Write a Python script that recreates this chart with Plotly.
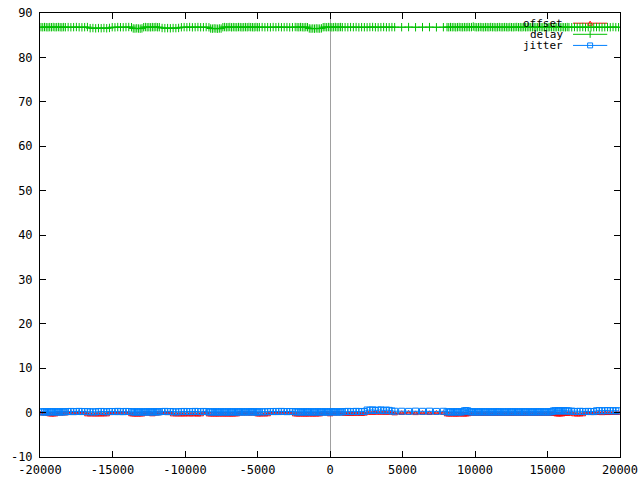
import plotly.graph_objects as go

# ---- data ----
x_values = [
    -19930, -19810, -19690, -19570, -19450, -19330, -19210, -19090, -18970, -18850, -18730, -18610, -18490, -18370, -18250,
    -18060, -17870, -17680, -17490, -17300, -17110, -16920, -16730,
    -16540, -16350, -16160, -15970, -15780, -15590, -15400, -15210,
    -15020, -14830, -14640, -14450, -14260, -14070, -13880, -13690,
    -13570, -13450, -13330, -13210, -13090, -12970,
    -12850, -12730, -12610, -12490, -12370, -12250, -12130, -12010, -11890, -11770,
    -11580, -11390, -11200, -11010, -10820, -10630, -10440,
    -10250, -10060, -9870, -9680, -9490, -9300, -9110, -8920, -8730, -8540, -8350,
    -8230, -8110, -7990, -7870, -7750, -7630, -7510,
    -7390, -7270, -7150, -7030, -6910, -6790, -6670, -6550, -6430, -6310, -6190, -6070, -5950, -5830, -5710, -5590,
    -5470, -5350, -5230, -5110, -4990, -4870,
    -4680, -4490, -4300, -4110, -3920, -3730, -3540, -3350, -3160, -2970, -2780, -2590, -2400,
    -2270, -2150, -2030, -1910, -1790, -1670, -1550,
    -1430, -1310, -1190, -1070, -950, -830, -710, -590,
    -470, -350, -230, -110, 10, 130, 250, 370, 490, 610, 730, 850,
    1040, 1230, 1420, 1610, 1800, 1990, 2180, 2370, 2560, 2750, 2940, 3130, 3320, 3510, 3700, 3890, 4080, 4270, 4460,
    4940, 5420, 5900, 6380, 6860, 7340, 7820,
    8070, 8190, 8310, 8430, 8550, 8670, 8790, 8910, 9030, 9150, 9270, 9390, 9510, 9630,
    9760,
    9880, 10000, 10120, 10240, 10360, 10480, 10600, 10720, 10840, 10960, 11080, 11200, 11320, 11440, 11560, 11680,
    11800, 11920, 12040, 12160, 12280, 12400, 12520, 12640, 12760, 12880, 13000, 13120, 13240, 13360, 13480, 13600,
    13720, 13840, 13960, 14080, 14200, 14320, 14440, 14560, 14680, 14800, 14920, 15040, 15160, 15280, 15400, 15520,
    15640, 15760, 15880, 16000, 16120, 16240, 16360, 16480,
    16670, 16860, 17050, 17240, 17430, 17620, 17810, 18000, 18190, 18380, 18570, 18760, 18950, 19140, 19330, 19520,
    19710, 19900,
]

delay_values = [
    86.81, 86.79, 86.83, 86.80, 86.78, 86.82, 86.80, 86.84, 86.79, 86.81, 86.83, 86.80, 86.78, 86.82, 86.80,
    86.82, 86.79, 86.81, 86.84, 86.80, 86.78, 86.81, 86.83,
    86.58, 86.61, 86.55, 86.60, 86.57, 86.62, 86.56, 86.63,
    86.81, 86.78, 86.83, 86.80, 86.79, 86.82, 86.84, 86.80,
    86.52, 86.49, 86.54, 86.50, 86.47, 86.53,
    86.80, 86.83, 86.79, 86.81, 86.78, 86.82, 86.80, 86.84, 86.79, 86.81,
    86.62, 86.58, 86.60, 86.56, 86.61, 86.59, 86.63,
    86.79, 86.82, 86.80, 86.84, 86.78, 86.81, 86.83, 86.79, 86.80, 86.82, 86.78,
    86.51, 86.48, 86.53, 86.50, 86.46, 86.52, 86.49,
    86.80, 86.83, 86.79, 86.81, 86.84, 86.78, 86.82, 86.80, 86.79, 86.83, 86.81, 86.78, 86.80, 86.82, 86.79, 86.84,
    86.81, 86.80, 86.78, 86.83, 86.79, 86.81,
    86.82, 86.79, 86.81, 86.78, 86.83, 86.80, 86.84, 86.79, 86.81, 86.82, 86.78, 86.80, 86.83,
    86.81, 86.79, 86.83, 86.80, 86.78, 86.82, 86.80,
    86.52, 86.48, 86.51, 86.47, 86.53, 86.50, 86.49, 86.54,
    86.80, 86.82, 86.79, 86.83, 86.81, 86.78, 86.80, 86.84, 86.79, 86.81, 86.83, 86.80,
    86.81, 86.79, 86.82, 86.80, 86.83, 86.78, 86.81, 86.80, 86.79, 86.82, 86.84, 86.80, 86.78, 86.81, 86.83, 86.79,
    86.80, 86.82, 86.81,
    86.80, 86.83, 86.79, 86.81, 86.82, 86.78, 86.80,
    86.81, 86.79, 86.83, 86.80, 86.82, 86.78, 86.81, 86.84, 86.80, 86.79, 86.82, 86.80, 86.83, 86.81,
    86.82,
    86.95, 86.82, 86.79, 86.81, 86.83, 86.80, 86.78, 86.82, 86.81, 86.79, 86.84, 86.80, 86.82, 86.78, 86.81, 86.83,
    86.79, 86.80, 86.82, 86.81, 86.78, 86.83, 86.80, 86.79, 86.82, 86.84, 86.80, 86.81, 86.78, 86.83, 86.79, 86.81,
    86.82, 86.80, 86.78, 86.84, 86.81, 86.79, 86.83, 86.80, 86.82, 86.78, 86.81, 86.80, 86.83, 86.79, 86.82, 86.80,
    86.81, 86.84, 86.78, 86.82, 86.80, 86.79, 86.83, 86.81,
    86.80, 86.83, 86.79, 86.81, 86.84, 86.78, 86.82, 86.80, 86.79, 86.83, 86.81, 86.78, 86.80, 86.82, 86.79, 86.84,
    86.81, 86.80,
]

offset_values = [
    -0.21, -0.18, -0.24, -0.20, -0.27, -0.44, -0.47, -0.43, -0.46, -0.22, -0.19, -0.25, -0.21, -0.17, -0.23,
    -0.12, -0.08, -0.15, -0.10, -0.06, -0.13, -0.09, -0.44,
    -0.46, -0.43, -0.48, -0.44, -0.47, -0.42, -0.45, -0.18,
    -0.14, -0.10, -0.16, -0.09, -0.12, -0.07, -0.15, -0.43,
    -0.46, -0.44, -0.48, -0.45, -0.43, -0.47,
    -0.22, -0.18, -0.25, -0.20, -0.23, -0.44, -0.19, -0.24, -0.21, -0.17,
    -0.14, -0.09, -0.17, -0.11, -0.45, -0.43, -0.47,
    -0.44, -0.47, -0.42, -0.46, -0.45, -0.43, -0.48, -0.44, -0.13, -0.09, -0.45,
    -0.46, -0.43, -0.47, -0.45, -0.44, -0.48, -0.42,
    -0.44, -0.47, -0.45, -0.43, -0.46, -0.48, -0.44, -0.42, -0.46, -0.21, -0.18, -0.24, -0.20, -0.16, -0.23, -0.19,
    -0.25, -0.21, -0.17, -0.22, -0.45, -0.47,
    -0.44, -0.46, -0.43, -0.12, -0.08, -0.15, -0.10, -0.13, -0.06, -0.11, -0.14, -0.09, -0.45,
    -0.46, -0.44, -0.47, -0.43, -0.45, -0.48, -0.44,
    -0.45, -0.43, -0.47, -0.44, -0.46, -0.42, -0.45, -0.22,
    -0.21, -0.18, -0.24, -0.20, -0.44, -0.19, -0.23, -0.17, -0.22, -0.20, -0.16, -0.24,
    -0.32, -0.27, -0.35, -0.29, -0.31, -0.26, -0.34, -0.28, -0.06, -0.03, -0.09, -0.05, -0.02, -0.07, -0.04, -0.08,
    -0.05, -0.03, -0.22,
    -0.14, -0.10, -0.17, -0.12, -0.15, -0.09, -0.13,
    -0.44, -0.47, -0.45, -0.43, -0.46, -0.48, -0.44, -0.45, -0.42, -0.46, -0.47, -0.44, -0.43, -0.21,
    -0.30,
    -0.28, -0.31, -0.26, -0.33, -0.29, -0.27, -0.32, -0.30, -0.25, -0.34, -0.29, -0.31, -0.27, -0.33, -0.28, -0.30,
    -0.26, -0.32, -0.29, -0.31, -0.27, -0.34, -0.30, -0.28, -0.32, -0.26, -0.31, -0.29, -0.33, -0.27, -0.30, -0.28,
    -0.32, -0.26, -0.31, -0.29, -0.34, -0.27, -0.30, -0.28, -0.32, -0.29, -0.26, -0.31, -0.28, -0.33, -0.30, -0.27,
    -0.45, -0.47, -0.44, -0.46, -0.31, -0.28, -0.32, -0.29,
    -0.18, -0.44, -0.47, -0.45, -0.43, -0.14, -0.11, -0.17, -0.09, -0.15, -0.12, -0.18, -0.10, -0.16, -0.13, -0.08,
    -0.14, -0.11,
]

jitter_values = [
    0.17, 0.15, 0.19, 0.16, 0.14, 0.18, 0.20, 0.16, 0.15, 0.19, 0.17, 0.14, 0.18, 0.16, 0.20,
    0.22, 0.26, 0.21, 0.24, 0.27, 0.23, 0.25, 0.22,
    0.16, 0.18, 0.15, 0.24, 0.26, 0.22, 0.17, 0.25,
    0.25, 0.22, 0.27, 0.23, 0.21, 0.26, 0.24, 0.19,
    0.16, 0.14, 0.18, 0.15, 0.17, 0.13,
    0.17, 0.15, 0.19, 0.16, 0.18, 0.14, 0.17, 0.20, 0.15, 0.18,
    0.24, 0.27, 0.22, 0.25, 0.18, 0.16, 0.19,
    0.23, 0.26, 0.21, 0.25, 0.22, 0.27, 0.24, 0.20, 0.26, 0.23, 0.17,
    0.15, 0.17, 0.14, 0.18, 0.16, 0.13, 0.17,
    0.16, 0.18, 0.14, 0.17, 0.15, 0.19, 0.16, 0.13, 0.18, 0.17, 0.15, 0.19, 0.16, 0.14, 0.18, 0.17,
    0.20, 0.15, 0.16, 0.18, 0.14, 0.17,
    0.19, 0.17, 0.21, 0.25, 0.22, 0.26, 0.23, 0.27, 0.24, 0.21, 0.25, 0.23, 0.18,
    0.16, 0.18, 0.15, 0.17, 0.14, 0.19, 0.16,
    0.17, 0.15, 0.18, 0.14, 0.16, 0.19, 0.15, 0.17,
    0.15, 0.18, 0.16, 0.14, 0.17, 0.19, 0.15, 0.18, 0.16, 0.14, 0.17, 0.20,
    0.23, 0.27, 0.21, 0.25, 0.28, 0.22, 0.26, 0.24, 0.58, 0.52, 0.63, 0.47, 0.55, 0.61, 0.44, 0.57,
    0.50, 0.36, 0.31,
    0.31, 0.28, 0.33, 0.29, 0.32, 0.27, 0.30,
    0.16, 0.18, 0.15, 0.17, 0.14, 0.19, 0.16, 0.18, 0.15, 0.17, 0.41, 0.44, 0.39, 0.18,
    0.17,
    0.17, 0.15, 0.18, 0.14, 0.16, 0.19, 0.15, 0.17, 0.16, 0.18, 0.14, 0.17, 0.15, 0.19, 0.16, 0.18,
    0.15, 0.17, 0.14, 0.16, 0.18, 0.15, 0.17, 0.19, 0.16, 0.14, 0.18, 0.15, 0.17, 0.16, 0.19, 0.15,
    0.17, 0.14, 0.18, 0.16, 0.15, 0.17, 0.19, 0.16, 0.14, 0.18, 0.16, 0.15, 0.17, 0.19, 0.38, 0.42,
    0.36, 0.44, 0.40, 0.37, 0.43, 0.39, 0.41, 0.35,
    0.33, 0.27, 0.24, 0.29, 0.26, 0.23, 0.28, 0.25, 0.22, 0.41, 0.45, 0.39, 0.43, 0.47, 0.40, 0.44,
    0.38, 0.42,
]

x_ticks = [-20000, -15000, -10000, -5000, 0, 5000, 10000, 15000, 20000]
y_ticks = [-10, 0, 10, 20, 30, 40, 50, 60, 70, 80, 90]
series_names = ["offset", "delay", "jitter"]

assert len(x_values) == len(delay_values) == len(offset_values) == len(jitter_values), (
    len(x_values), len(delay_values), len(offset_values), len(jitter_values))

# ---- styles ----
RED = "#ff0000"
GREEN = "#00c000"
BLUE = "#0080ff"
FONT = "DejaVu Sans Mono"

fig = go.Figure()
fig.add_trace(go.Scatter(
    x=x_values, y=offset_values, mode="lines+markers", name=series_names[0],
    line=dict(color=RED, width=1),
    marker=dict(symbol="triangle-up-open", size=5, color=RED, line=dict(width=1, color=RED)),
    showlegend=False))
fig.add_trace(go.Scatter(
    x=x_values, y=delay_values, mode="lines+markers", name=series_names[1],
    line=dict(color=GREEN, width=1),
    marker=dict(symbol="cross-thin", size=6, color=GREEN, line=dict(width=1, color=GREEN)),
    showlegend=False))
fig.add_trace(go.Scatter(
    x=x_values, y=jitter_values, mode="lines+markers", name=series_names[2],
    line=dict(color=BLUE, width=1),
    marker=dict(symbol="square-open", size=6, color=BLUE, line=dict(width=1, color=BLUE)),
    showlegend=False))

# ---- key (gnuplot style: text then sample) ----
key_y = [0.977, 0.952, 0.927]
key_colors = [RED, GREEN, BLUE]
annotations = []
shapes = []
for name, ky, col in zip(series_names, key_y, key_colors):
    annotations.append(dict(text=name, x=0.905, y=ky, xref="paper", yref="paper",
                            xanchor="right", yanchor="middle", showarrow=False,
                            font=dict(family=FONT, size=11, color="black")))
    shapes.append(dict(type="line", xref="paper", yref="paper", x0=0.919, x1=0.978, y0=ky, y1=ky,
                       line=dict(color=col, width=1), layer="below"))
# key markers
mx = 0.9485
shapes.append(dict(type="path", xref="paper", yref="paper",
                   path=f"M {mx-0.0043},{key_y[0]-0.0045} L {mx+0.0043},{key_y[0]-0.0045} L {mx},{key_y[0]+0.0045} Z",
                   line=dict(color=RED, width=1), layer="below"))
shapes.append(dict(type="line", xref="paper", yref="paper", x0=mx, x1=mx,
                   y0=key_y[1]-0.008, y1=key_y[1]+0.008, line=dict(color=GREEN, width=1), layer="below"))
shapes.append(dict(type="rect", xref="paper", yref="paper", x0=mx-0.0043, x1=mx+0.0043,
                   y0=key_y[2]-0.0056, y1=key_y[2]+0.0056, line=dict(color=BLUE, width=1), layer="below"))

axis_common = dict(
    showline=True, linecolor="black", linewidth=1, mirror="allticks",
    ticks="inside", ticklen=6, tickcolor="black", tickwidth=1,
    showgrid=False, zeroline=True, zerolinecolor="#a0a0a0", zerolinewidth=1,
    tickfont=dict(family=FONT, size=12, color="black"), automargin=False,
    ticklabeloverflow="allow",
)

fig.update_layout(
    width=640, height=480,
    margin=dict(l=40, r=20, t=13, b=23),
    paper_bgcolor="white", plot_bgcolor="white",
    xaxis=dict(range=[-20000, 20000], tickmode="array", tickvals=x_ticks,
               ticktext=[str(v) for v in x_ticks], ticklabelstandoff=2, **axis_common),
    yaxis=dict(range=[-10, 90], tickmode="array", tickvals=y_ticks,
               ticktext=[str(v) for v in y_ticks], ticklabelstandoff=4, **axis_common),
    annotations=annotations,
    shapes=shapes,
    showlegend=False,
)

# remove the default page margin so the 640x480 figure fills the window exactly
fig.write_html("out.html", config={"displayModeBar": False},
               post_script="document.body.style.margin='0';")
